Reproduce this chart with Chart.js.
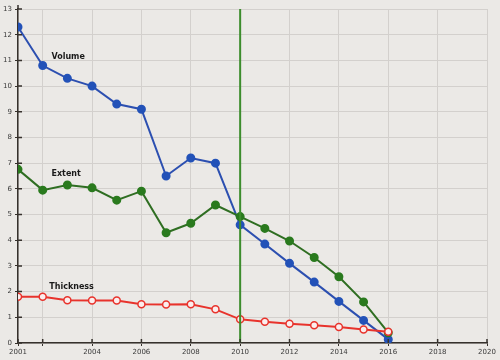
<!DOCTYPE html>
<html>
<head>
<meta charset="UTF-8">
<script src="https://cdn.jsdelivr.net/npm/chart.js"></script>
<style>
  body, html { margin: 0; padding: 0; background: #ebe9e6; }
  .wrap { width: 500px; height: 360px; position: relative; }
</style>
</head>
<body>
<div class="wrap"><canvas id="ice"></canvas></div>
<script>
// years and series
const years = [2001, 2002, 2003, 2004, 2005, 2006, 2007, 2008, 2009, 2010, 2011, 2012, 2013, 2014, 2015, 2016];
const volume = [12.3, 10.8, 10.3, 10.0, 9.3, 9.1, 6.5, 7.2, 7.0, 4.6, 3.85, 3.1, 2.37, 1.62, 0.88, 0.14];
const extent = [6.76, 5.95, 6.15, 6.04, 5.56, 5.91, 4.29, 4.66, 5.37, 4.92, 4.46, 3.97, 3.33, 2.58, 1.6, 0.4];
const thickness = [1.8, 1.8, 1.66, 1.65, 1.65, 1.51, 1.5, 1.51, 1.31, 0.92, 0.83, 0.75, 0.69, 0.62, 0.53, 0.44];
const xTicks = [2001, 2002, 2004, 2006, 2008, 2010, 2012, 2014, 2016, 2018, 2020];
const hiddenXLabels = [2002];
const markerYear = 2010;
// series names written next to the lines: [text, year, value]
const seriesLabels = [['Volume', 2003.03, 11.13], ['Extent', 2002.95, 6.58], ['Thickness', 2003.17, 2.18]];

const pts = arr => arr.map((v, i) => ({ x: years[i], y: v }));
const axisColor = '#36312c';

const textLabels = {
  id: 'textLabels',
  afterDatasetsDraw(chart) {
    const { ctx, scales: { x, y } } = chart;
    ctx.save();
    ctx.font = 'bold 8px "DejaVu Sans", sans-serif';
    ctx.fillStyle = '#1a1a1a';
    ctx.textAlign = 'center';
    ctx.textBaseline = 'middle';
    seriesLabels.forEach(([t, yr, v]) => ctx.fillText(t, x.getPixelForValue(yr), y.getPixelForValue(v)));
    ctx.restore();
  }
};

// tick marks poke a little into the plot as well
const innerTicks = {
  id: 'innerTicks',
  afterDraw(chart) {
    const { ctx, chartArea: a, scales: { x, y } } = chart;
    ctx.save();
    ctx.strokeStyle = axisColor;
    ctx.lineWidth = 1.5;
    ctx.beginPath();
    x.ticks.forEach(t => { const px = x.getPixelForValue(t.value); ctx.moveTo(px, a.bottom); ctx.lineTo(px, a.bottom - 4); });
    y.ticks.forEach(t => { const py = y.getPixelForValue(t.value); ctx.moveTo(a.left, py); ctx.lineTo(a.left + 4, py); });
    ctx.moveTo(a.left, a.top); ctx.lineTo(a.left, a.top - 4);
    ctx.stroke();
    ctx.restore();
  }
};

new Chart(document.getElementById('ice'), {
  type: 'line',
  data: {
    datasets: [
      {
        label: 'marker',
        data: [{ x: markerYear, y: 0 }, { x: markerYear, y: 13 }],
        borderColor: '#3c8c2c',
        borderWidth: 2,
        pointRadius: 0
      },
      {
        label: 'Thickness',
        data: pts(thickness),
        borderColor: '#e8332c',
        borderWidth: 2,
        pointRadius: 3.5,
        pointBackgroundColor: '#fbeeee',
        pointBorderColor: '#e8332c',
        pointBorderWidth: 1.5
      },
      {
        label: 'Extent',
        data: pts(extent),
        borderColor: '#2f6e22',
        borderWidth: 2,
        pointRadius: 3.5,
        pointBackgroundColor: '#2a7a1e',
        pointBorderColor: '#2a7a1e'
      },
      {
        label: 'Volume',
        data: pts(volume),
        borderColor: '#2c4fb0',
        borderWidth: 2,
        pointRadius: 3.5,
        pointBackgroundColor: '#2352b8',
        pointBorderColor: '#2352b8'
      }
    ]
  },
  options: {
    responsive: true,
    maintainAspectRatio: false,
    animation: false,
    layout: { padding: { top: 9, right: 13, left: 0, bottom: 0 } },
    plugins: { legend: { display: false }, tooltip: { enabled: false } },
    scales: {
      x: {
        type: 'linear',
        min: 2001,
        max: 2020,
        afterBuildTicks: s => { s.ticks = xTicks.map(v => ({ value: v })); },
        afterFit: s => { s.height = 17; },
        grid: { color: '#d3d0cd', tickLength: 3, tickColor: axisColor },
        border: { color: axisColor, width: 1.5 },
        ticks: {
          maxRotation: 0,
          autoSkip: false,
          padding: 2,
          color: '#3a3a3a',
          font: { size: 7, family: '"DejaVu Sans", sans-serif' },
          callback: v => hiddenXLabels.includes(v) ? '' : String(v)
        }
      },
      y: {
        min: 0,
        max: 13,
        afterFit: s => { s.width = 18; },
        grid: { color: '#d3d0cd', tickLength: 3, tickColor: axisColor },
        border: { color: axisColor, width: 1.5 },
        ticks: {
          stepSize: 1,
          padding: 3,
          color: '#3a3a3a',
          font: { size: 7, family: '"DejaVu Sans", sans-serif' }
        }
      }
    }
  },
  plugins: [textLabels, innerTicks]
});
</script>
</body>
</html>
